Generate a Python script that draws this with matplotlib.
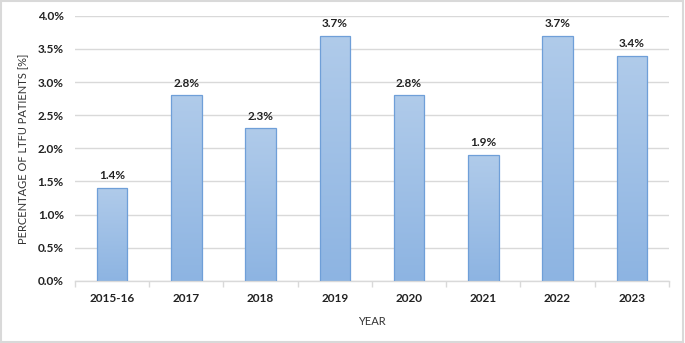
import matplotlib.pyplot as plt
import numpy as np
from matplotlib.patches import Rectangle
from matplotlib.ticker import FuncFormatter, MultipleLocator

plt.rcParams['font.family'] = ['Lato', 'DejaVu Sans']

years = ['2015-16', '2017', '2018', '2019', '2020', '2021', '2022', '2023']
ltfu_pct = [1.4, 2.8, 2.3, 3.7, 2.8, 1.9, 3.7, 3.4]

fig = plt.figure(figsize=(6.85, 3.43), dpi=100)
ax = fig.add_axes([0.1095, 0.181, 0.867, 0.773])

x = np.arange(len(years))
bars = ax.bar(x, ltfu_pct, width=0.41, color='none', edgecolor='#6f9fd8', linewidth=0.9, zorder=3)

# vertical gradient fill, lighter at the top
grad = np.linspace(0, 1, 256).reshape(-1, 1)
from matplotlib.colors import LinearSegmentedColormap
cmap = LinearSegmentedColormap.from_list('bar', ['#8db4e2', '#b0cbea'])
for b in bars:
    x0, w, h = b.get_x(), b.get_width(), b.get_height()
    im = ax.imshow(grad, cmap=cmap, aspect='auto', origin='lower',
                   extent=(x0, x0 + w, 0, h), zorder=2)
    im.set_clip_path(b)

for xi, v in zip(x, ltfu_pct):
    ax.text(xi, v + 0.1, f'{v:.1f}%', ha='center', va='bottom',
            fontsize=8.5, fontweight='bold', color='#222222')

ax.set_xlim(-0.5, len(years) - 0.5)
ax.set_ylim(0, 4.0)
ax.yaxis.set_major_locator(MultipleLocator(0.5))
ax.yaxis.set_major_formatter(FuncFormatter(lambda v, p: f'{v:.1f}%'))
ax.grid(axis='y', color='#d9d9d9', linewidth=1, zorder=0)
ax.set_axisbelow(True)

ax.set_xticks(x)
ax.set_xticklabels(years, fontsize=8.5, fontweight='bold', color='#222222')
ax.set_xticks(np.arange(-0.5, len(years)), minor=True)
ax.tick_params(axis='x', which='major', length=0, pad=9)
ax.tick_params(axis='x', which='minor', length=4, color='#d9d9d9', width=1)
ax.tick_params(axis='y', length=0, labelsize=8.5, pad=8)
for lab in ax.get_yticklabels():
    lab.set_fontweight('bold')
    lab.set_color('#222222')

for s in ['top', 'right', 'left']:
    ax.spines[s].set_visible(False)
ax.spines['bottom'].set_color('#d9d9d9')
ax.spines['bottom'].set_linewidth(1)

ax.set_xlabel('YEAR', fontsize=8, color='#333333', labelpad=8)
ax.set_ylabel('PERCENTAGE OF LTFU PATIENTS [%]', fontsize=8, color='#333333', labelpad=6)

fig.patches.append(Rectangle((0.002, 0.003), 0.995, 0.993, transform=fig.transFigure,
                             fill=False, edgecolor='#d9d9d9', linewidth=1.5))

fig.savefig('out.png', dpi=100)
